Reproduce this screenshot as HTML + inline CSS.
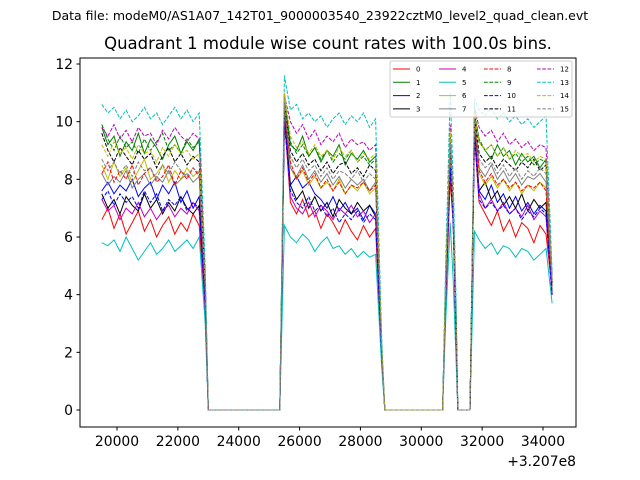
<!DOCTYPE html>
<html><head><meta charset="utf-8"><style>
html,body{margin:0;padding:0;background:#fff;}
svg{display:block;font-family:"DejaVu Sans","Liberation Sans",sans-serif;}
</style></head><body>
<svg id="chart" width="640" height="480" viewBox="0 0 640 480" xmlns="http://www.w3.org/2000/svg">
<rect x="0" y="0" width="640" height="480" fill="#fff"/>
<text x="320" y="20" text-anchor="middle" font-size="12.5">Data file: modeM0/AS1A07_142T01_9000003540_23922cztM0_level2_quad_clean.evt</text>
<text x="328" y="49" text-anchor="middle" font-size="16.5">Quadrant 1 module wise count rates with 100.0s bins.</text>
<g id="plot"></g>
<rect x="80" y="58" width="496" height="369" fill="none" stroke="#000" stroke-width="1"/>
<g id="axes"></g>
<text x="576" y="466" text-anchor="end" font-size="13.9">+3.207e8</text>
<g id="legend"></g>
</svg>
<script>
const times = [19500,19700,19900,20100,20300,20500,20700,20900,21100,21300,21500,21700,21900,22100,22300,22500,22700,22900,23000,25350,25500,25700,25900,26100,26300,26500,26700,26900,27100,27300,27500,27700,27900,28100,28300,28500,28700,28800,30700,30800,30950,31050,31150,31200,31600,31750,31900,32100,32300,32500,32700,32900,33100,33300,33500,33700,33900,34100,34300];
const s0=[6.6,7.0,6.3,6.8,6.1,6.5,6.9,6.2,6.6,6.0,6.4,6.7,6.1,6.5,6.2,6.8,6.4,3.5,0,0,10.2,7.2,6.8,7.3,6.7,6.9,6.3,6.8,6.5,6.1,6.6,6.2,5.9,6.4,6.0,6.3,1.8,0,0,3.5,8.0,6.5,2.0,0,0,9.5,7.2,6.8,6.4,6.9,6.2,6.6,6.0,6.5,6.3,5.8,6.4,6.1,4.2];
const s1=[9.8,9.2,9.5,8.8,9.3,9.0,9.6,8.9,9.4,9.1,8.7,9.2,9.5,8.9,9.3,9.0,9.4,4.5,0,0,10.8,9.2,9.0,9.5,8.8,9.1,8.6,9.0,8.8,9.2,8.5,8.9,8.7,9.0,8.6,8.8,2.2,0,0,4.5,9.5,7.0,3.0,0,0,10.3,9.3,9.0,8.7,9.2,8.8,9.0,8.5,8.9,8.6,8.8,8.4,8.7,4.5];
const s2=[7.6,7.9,7.5,7.8,7.6,8.0,7.4,7.7,7.9,7.3,7.8,7.5,7.9,7.2,7.6,7.0,7.4,3.8,0,0,10.0,7.8,8.1,7.7,7.9,7.5,7.3,7.0,7.4,6.9,7.2,6.8,7.0,6.6,7.1,6.8,2.0,0,0,4.0,8.5,6.5,2.5,0,0,9.7,7.6,7.3,7.8,7.2,7.5,7.0,7.4,6.9,7.2,6.8,7.1,6.9,4.0];
const s3=[7.5,7.0,7.3,6.8,7.4,7.1,6.9,7.5,7.0,7.3,6.8,7.2,6.9,7.4,7.0,6.8,7.1,3.6,0,0,10.3,7.8,7.3,7.6,7.0,7.4,6.9,7.2,6.7,7.3,7.0,6.8,7.2,6.9,7.1,6.7,2.0,0,0,4.0,8.8,6.8,2.5,0,0,9.8,7.6,7.9,7.3,7.6,7.1,7.4,7.0,7.5,6.9,7.3,7.0,7.2,4.0];
const s4=[7.3,6.9,7.1,6.6,7.0,6.8,7.2,6.7,7.0,6.6,6.9,7.1,6.7,7.0,6.8,7.2,6.9,3.5,0,0,10.1,7.4,7.0,6.8,7.2,6.7,7.1,6.9,6.6,7.0,6.8,7.1,6.7,6.9,6.5,6.8,1.9,0,0,3.8,8.6,6.6,2.3,0,0,9.6,7.5,7.0,7.3,6.9,7.2,6.8,7.0,6.7,7.1,6.6,6.9,6.7,4.0];
const s5=[5.8,5.7,5.9,5.5,6.0,5.6,5.2,5.5,5.8,5.4,5.6,5.9,5.5,5.7,5.9,5.6,6.0,3.0,0,0,6.4,6.0,5.8,6.1,5.9,5.5,5.8,6.0,5.6,5.7,5.4,5.6,5.3,5.5,5.3,5.4,1.5,0,0,3.0,6.5,4.5,1.5,0,0,6.2,5.9,5.6,5.8,5.4,5.7,5.6,5.3,5.6,5.5,5.2,5.4,5.6,3.7];
const s6=[8.5,8.0,8.6,8.1,8.4,7.9,8.3,8.7,8.0,8.2,8.5,7.9,8.3,8.0,8.4,8.1,8.3,4.0,0,0,10.9,8.4,8.0,8.3,7.8,8.1,7.7,7.9,7.6,8.0,7.5,7.8,7.6,7.9,7.5,7.7,2.0,0,0,4.0,9.0,6.8,2.6,0,0,10.6,8.2,7.8,8.1,7.7,8.0,7.6,7.9,7.5,7.8,7.6,7.9,7.7,4.2];
const s7=[8.2,7.8,8.1,7.9,8.3,7.7,8.0,8.2,7.8,8.1,7.9,8.3,7.8,8.0,8.2,7.9,8.1,4.0,0,0,10.5,8.4,8.1,8.5,8.0,8.3,7.9,8.2,7.8,8.1,7.7,8.0,7.8,8.0,7.6,7.9,2.0,0,0,4.2,9.0,6.8,2.5,0,0,10.0,8.4,8.1,8.5,8.0,8.3,7.9,8.2,7.8,8.1,8.0,8.2,7.9,4.2];
const s8=[8.2,8.6,7.9,8.3,8.0,8.5,7.8,8.2,8.4,7.9,8.1,8.5,7.8,8.3,8.0,8.4,8.1,4.0,0,0,10.4,8.6,8.0,8.4,7.9,8.2,7.7,8.0,7.6,7.9,7.5,7.8,7.7,7.9,7.6,7.8,2.0,0,0,4.0,9.2,6.8,2.5,0,0,10.2,8.3,7.9,8.2,7.8,8.0,7.7,7.9,7.6,7.8,7.7,7.9,7.6,4.3];
const s9=[9.9,9.4,9.0,9.5,9.1,9.3,8.9,9.4,9.0,9.3,9.6,9.0,9.2,8.9,9.4,9.1,9.3,4.5,0,0,11.0,9.3,8.9,9.2,8.8,9.1,8.7,9.0,8.6,8.9,8.7,9.0,8.6,8.8,8.5,8.7,2.2,0,0,4.5,9.6,7.0,3.0,0,0,10.4,9.4,9.0,9.2,8.8,9.1,8.7,8.9,8.6,8.8,8.5,8.7,8.6,4.5];
const s10=[7.3,7.6,7.1,7.5,7.2,7.4,7.0,7.6,7.2,7.5,6.9,7.3,7.1,7.4,6.9,7.2,7.0,3.7,0,0,10.0,7.6,7.2,7.0,7.4,6.9,7.1,6.7,7.0,6.5,6.8,6.6,6.9,6.5,6.8,6.6,1.9,0,0,3.9,8.4,6.4,2.3,0,0,9.5,7.3,7.0,7.2,6.9,7.1,6.8,7.0,6.6,6.9,6.7,7.0,6.8,4.0];
const s11=[9.6,9.0,8.6,9.1,8.8,8.5,9.0,8.7,8.9,8.4,8.8,9.1,8.6,8.9,8.5,8.8,8.6,4.3,0,0,10.6,9.0,8.6,8.9,8.5,8.7,8.3,8.6,8.2,8.5,8.6,8.2,8.4,8.1,8.5,8.3,2.1,0,0,4.3,9.4,7.0,2.8,0,0,10.2,8.9,8.6,8.8,8.4,8.7,8.5,8.3,8.6,8.4,8.7,8.3,8.5,4.4];
const s12=[9.8,9.5,9.9,9.4,9.7,9.3,9.8,9.5,9.6,9.2,9.7,9.4,9.8,9.5,9.3,9.6,9.4,4.6,0,0,10.9,10.0,9.6,9.9,9.4,9.7,9.2,9.5,9.3,9.6,9.1,9.4,9.2,9.3,9.0,9.2,2.3,0,0,4.6,9.9,7.2,3.0,0,0,10.5,9.8,9.5,9.7,9.3,9.6,9.2,9.4,9.1,9.3,9.0,9.2,9.1,4.6];
const s13=[10.6,10.3,10.5,10.1,10.4,10.0,10.2,10.5,10.1,10.3,9.9,10.2,10.5,10.1,10.4,10.0,10.3,5.0,0,0,11.6,10.4,10.6,10.1,10.3,10.0,10.2,9.8,10.1,10.3,9.9,10.2,10.0,10.3,9.8,10.1,2.5,0,0,5.0,11.0,8.0,3.5,0,0,10.8,10.4,10.2,10.5,10.1,10.3,10.0,10.2,9.9,10.1,9.8,10.0,10.2,4.8];
const s14=[9.2,8.8,9.3,8.9,9.1,8.7,9.2,8.9,9.0,8.6,9.1,8.8,9.2,8.9,9.0,8.7,8.9,4.4,0,0,11.0,9.5,9.1,9.3,8.9,9.2,8.8,9.0,8.7,9.1,8.8,9.0,8.6,8.9,8.7,8.9,2.2,0,0,4.4,9.7,7.0,2.9,0,0,10.3,9.3,9.0,9.2,8.8,9.1,8.7,9.0,8.8,8.9,8.6,8.8,8.7,4.5];
const s15=[8.7,8.3,8.6,8.2,8.5,8.1,8.6,8.3,8.4,8.0,8.5,8.2,8.6,8.3,8.1,8.4,8.2,4.2,0,0,10.6,8.8,8.4,8.7,8.3,8.5,8.1,8.4,8.0,8.3,8.2,8.0,8.3,7.9,8.2,8.0,2.1,0,0,4.2,9.3,6.9,2.7,0,0,10.1,8.7,8.4,8.6,8.2,8.5,8.1,8.4,8.0,8.3,8.1,8.4,8.2,4.4];
const seriesLabels=["0","1","2","3","4","5","6","7","8","9","10","11","12","13","14","15"];
const xTicks=[20000,22000,24000,26000,28000,30000,32000,34000];
const yTicks=[0,2,4,6,8,10,12];

const series=[s0,s1,s2,s3,s4,s5,s6,s7,s8,s9,s10,s11,s12,s13,s14,s15];
const colors=["#ff0000","#008000","#0000ff","#000000","#bf00bf","#00bfbf","#bfbf00","#808080"];
const NS="http://www.w3.org/2000/svg";
function xs(t){return 117+(t-20000)*426/14000;}
function ys(v){return 410-v*(410-64)/12;}
const plot=document.getElementById('plot');
series.forEach((s,i)=>{
  const p=document.createElementNS(NS,'polyline');
  p.setAttribute('points',s.map((v,j)=>xs(times[j]).toFixed(1)+','+ys(v).toFixed(1)).join(' '));
  p.setAttribute('fill','none');
  p.setAttribute('stroke',colors[i%8]);
  p.setAttribute('stroke-width','1');
  if(i>=8)p.setAttribute('stroke-dasharray','3.7,1.6');
  
  
  plot.appendChild(p);
});
const axes=document.getElementById('axes');
xTicks.forEach(t=>{
  const x=xs(t);
  const l=document.createElementNS(NS,'line');
  l.setAttribute('x1',x);l.setAttribute('x2',x);l.setAttribute('y1',427);l.setAttribute('y2',430.5);l.setAttribute('stroke','#000');
  
  
  axes.appendChild(l);
  const tx=document.createElementNS(NS,'text');
  tx.setAttribute('x',x);tx.setAttribute('y',446);tx.setAttribute('text-anchor','middle');tx.setAttribute('font-size','13.9');
  tx.textContent=t;
  
  
  axes.appendChild(tx);
});
yTicks.forEach(v=>{
  const y=ys(v);
  const l=document.createElementNS(NS,'line');
  l.setAttribute('x1',76.5);l.setAttribute('x2',80);l.setAttribute('y1',y);l.setAttribute('y2',y);l.setAttribute('stroke','#000');
  
  
  axes.appendChild(l);
  const tx=document.createElementNS(NS,'text');
  tx.setAttribute('x',73);tx.setAttribute('y',y+5);tx.setAttribute('text-anchor','end');tx.setAttribute('font-size','13.9');
  tx.textContent=v;
  
  
  axes.appendChild(tx);
});
const lg=document.getElementById('legend');
const box=document.createElementNS(NS,'rect');
box.setAttribute('x',390);box.setAttribute('y',61);box.setAttribute('width',182);box.setAttribute('height',56);box.setAttribute('rx',2);
box.setAttribute('fill','#fff');box.setAttribute('fill-opacity','0.8');box.setAttribute('stroke','#ccc');


lg.appendChild(box);
const colX=[393,439,484,537];
series.forEach((s,i)=>{
  const c=Math.floor(i/4),r=i%4;
  const y=69+r*13.3;
  const l=document.createElementNS(NS,'line');
  l.setAttribute('x1',colX[c]);l.setAttribute('x2',colX[c]+17);l.setAttribute('y1',y);l.setAttribute('y2',y);
  l.setAttribute('stroke',colors[i%8]);l.setAttribute('stroke-width','1');
  if(i>=8)l.setAttribute('stroke-dasharray','3.7,1.6');
  
  
  lg.appendChild(l);
  const tx=document.createElementNS(NS,'text');
  tx.setAttribute('x',colX[c]+23);tx.setAttribute('y',y+2.5);tx.setAttribute('font-size','7');
  tx.textContent=seriesLabels[i];
  
  
  lg.appendChild(tx);
});
</script>
</body></html>
